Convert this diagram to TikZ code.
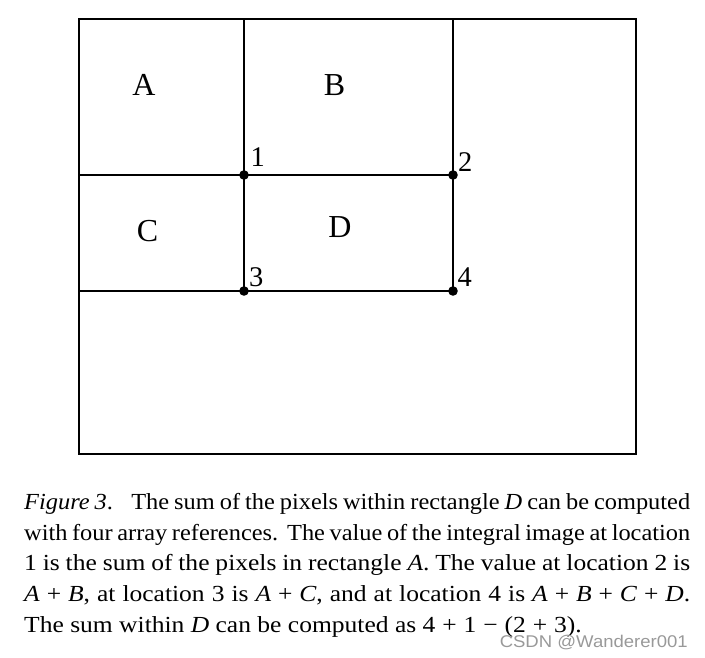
\documentclass[tikz,border=0pt]{standalone}
\usepackage{fontspec}
\setmainfont{Liberation Serif}
\newfontfamily\capfont[FakeStretch=1.11]{Liberation Serif}
\newfontfamily\tightfont[FakeStretch=1.06]{Liberation Serif}
\newfontfamily\wmfont[FakeStretch=1.09]{Liberation Sans}
\usetikzlibrary{positioning}

\newcommand{\pl}{\hspace{0.3em}+\hspace{0.3em}}
\newcommand{\mn}{\hspace{0.3em}−\hspace{0.3em}}
\newcommand{\tightline}[1]{\makebox[666pt][s]{\tightfont\spaceskip=0.15em plus 1em\relax #1}}

\tikzset{
	region/.style={font=\fontsize{32}{36}\selectfont, inner sep=0pt, anchor=base},
	corner/.style={font=\fontsize{28.5}{32}\selectfont, inner sep=0pt, anchor=base west},
	capline/.style={font=\capfont\fontsize{23}{30.8}\selectfont, inner sep=0pt, anchor=base west},
	grid line/.style={line width=1.3pt},
}

\begin{document}
\begin{tikzpicture}[x=1pt,y=-1pt]
\useasboundingbox (0,0) rectangle (705,658);

% frame and the four locations
\coordinate (tl) at (79,19);
\coordinate (br) at (636,454);
\coordinate (p1) at (244,175);
\coordinate (p2) at (453,175);
\coordinate (p3) at (244,291);
\coordinate (p4) at (453,291);

\draw[grid line] (tl) rectangle (br);
\draw[grid line] (p1 |- tl) -- (p3);
\draw[grid line] (p2 |- tl) -- (p4);
\draw[grid line] (tl |- p1) -- (p2);
\draw[line width=2pt] (tl |- p3) -- (p4);

\foreach \p in {1,...,4}
{
	\fill (p\p) circle (4.8pt);
}

\node[region] (A) at (144,95.7) {A};
\node[region] (B) at (334.5,95.7) {B};
\node[region] (C) at (147.5,242) {C};
\node[region] (D) at (340,237.7) {D};

\node[corner] (n1) at (250.5,166.7) {1};
\node[corner] (n2) at (458,171.7) {2};
\node[corner] (n3) at (249,286.7) {3};
\node[corner] (n4) at (457.3,286.7) {4};

% caption
\node[capline] (l1) at (24,509) {\tightline{\textit{Figure 3}.\hspace{0.8em}The sum of the pixels within rectangle \textit{D} can be computed}};
\node[capline] (l2) at (24,540) {\tightline{with four array references. The value of the integral image at location}};
\node[capline] (l3) at (24,570.5) {\makebox[666pt][s]{1 is the sum of the pixels in rectangle \textit{A}. The value at location 2 is}};
\node[capline] (l4) at (24,601) {\makebox[666pt][s]{\textit{A}\pl\textit{B}, at location 3 is \textit{A}\pl\textit{C}, and at location 4 is \textit{A}\pl\textit{B}\pl\textit{C}\pl\textit{D}.}};
\node[capline] (l5) at (24,632) {The sum within \textit{D} can be computed as 4\pl1\mn(2\pl3).};

\node[font=\wmfont\fontsize{17}{20}\selectfont, text=black!40, inner sep=0pt, anchor=base east] (wm) at (688,647) {CSDN @Wanderer001};
\end{tikzpicture}
\end{document}
